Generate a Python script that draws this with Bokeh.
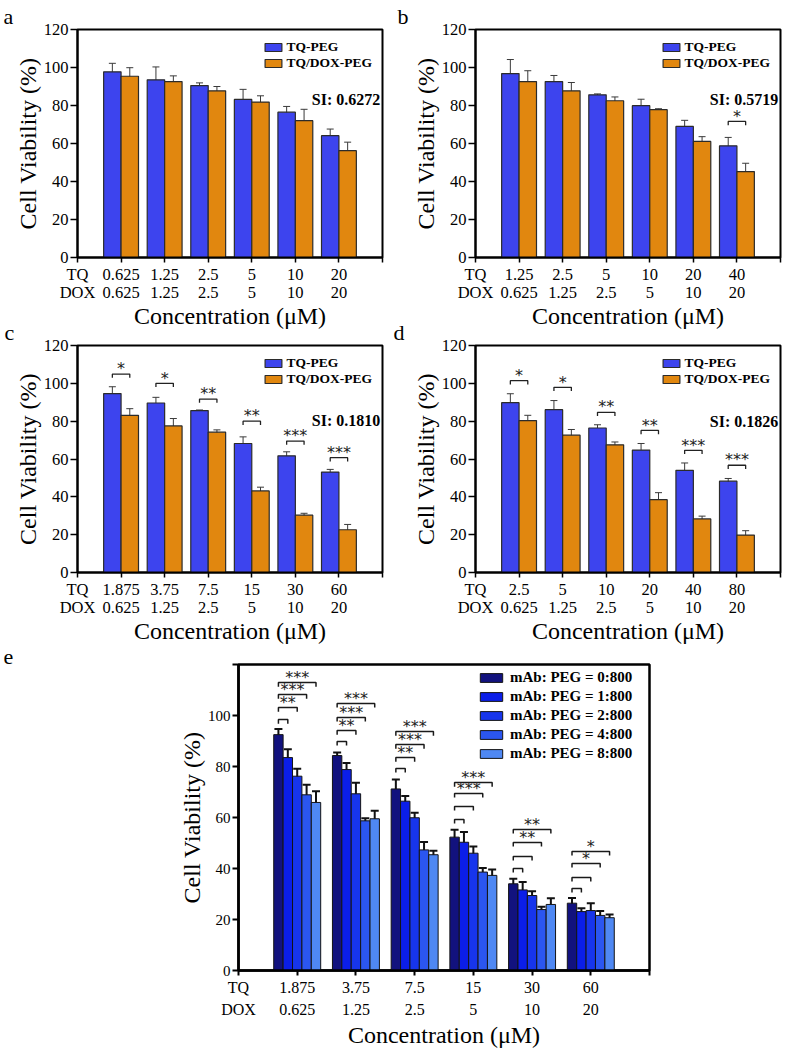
from bokeh.plotting import figure
from bokeh.models import (ColumnDataSource, FixedTicker, Range1d, Legend, LegendItem,
                          Whisker, TeeHead)
from bokeh.layouts import column, row
from bokeh.core.properties import value
from bokeh.embed import file_html
from bokeh.resources import INLINE

SERIF = "Liberation Serif"
STARFONT = "DejaVu Sans"
BLUE = "#3d44ee"
ORANGE = "#e1870f"
E_COLORS = ["#12127e", "#0b1ee8", "#1735ec", "#2b56f0", "#4f88f3"]

# ---------------- data ----------------
series_names = ["TQ-PEG", "TQ/DOX-PEG"]

a_tq = ["0.625", "1.25", "2.5", "5", "10", "20"]
a_dox = ["0.625", "1.25", "2.5", "5", "10", "20"]
a_peg = [97.7, 93.5, 90.5, 83.2, 76.5, 64.1]
a_peg_err = [4.5, 6.8, 1.4, 5.3, 3.0, 3.5]
a_tqdox = [95.4, 92.6, 87.7, 81.8, 72.0, 56.2]
a_tqdox_err = [4.5, 3.0, 2.3, 3.3, 6.0, 4.5]
a_stars = ["", "", "", "", "", ""]
a_bracket = [0, 0, 0, 0, 0, 0]
a_si = "SI: 0.6272"

b_tq = ["1.25", "2.5", "5", "10", "20", "40"]
b_dox = ["0.625", "1.25", "2.5", "5", "10", "20"]
b_peg = [96.8, 92.6, 85.6, 79.9, 69.0, 58.8]
b_peg_err = [7.4, 3.2, 0.5, 3.4, 3.2, 4.4]
b_tqdox = [92.6, 87.7, 82.5, 77.8, 61.1, 45.2]
b_tqdox_err = [5.7, 4.4, 2.0, 0.5, 2.5, 4.4]
b_stars = ["", "", "", "", "", "*"]
b_bracket = [0, 0, 0, 0, 0, 71.6]
b_si = "SI: 0.5719"

c_tq = ["1.875", "3.75", "7.5", "15", "30", "60"]
c_dox = ["0.625", "1.25", "2.5", "5", "10", "20"]
c_peg = [94.6, 89.6, 85.6, 68.2, 61.7, 53.1]
c_peg_err = [3.6, 3.0, 0.3, 3.5, 2.1, 1.4]
c_tqdox = [83.1, 77.5, 74.2, 43.1, 30.3, 22.6]
c_tqdox_err = [3.5, 3.9, 1.2, 2.0, 1.0, 2.8]
c_stars = ["*", "*", "**", "**", "***", "***"]
c_bracket = [104.9, 100.0, 91.7, 80.0, 69.5, 60.7]
c_si = "SI: 0.1810"

d_tq = ["2.5", "5", "10", "20", "40", "80"]
d_dox = ["0.625", "1.25", "2.5", "5", "10", "20"]
d_peg = [89.8, 86.1, 76.4, 64.7, 54.0, 48.3]
d_peg_err = [4.7, 4.8, 1.7, 3.5, 3.9, 1.4]
d_tqdox = [80.3, 72.6, 67.5, 38.5, 28.3, 19.8]
d_tqdox_err = [2.8, 3.0, 1.5, 3.7, 1.5, 2.3]
d_stars = ["*", "*", "**", "**", "***", "***"]
d_bracket = [101.4, 97.9, 84.7, 75.1, 64.6, 56.7]
d_si = "SI: 0.1826"

e_tq = ["1.875", "3.75", "7.5", "15", "30", "60"]
e_dox = ["0.625", "1.25", "2.5", "5", "10", "20"]
e_names = ["mAb: PEG = 0:800", "mAb: PEG = 1:800", "mAb: PEG = 2:800",
           "mAb: PEG = 4:800", "mAb: PEG = 8:800"]
e_r0 = [92.5, 84.3, 71.2, 52.3, 34.0, 26.4]
e_r0_err = [2.2, 1.2, 3.7, 2.9, 2.0, 2.0]
e_r1 = [83.5, 78.8, 66.4, 50.3, 31.6, 23.1]
e_r1_err = [3.3, 2.6, 2.0, 4.0, 3.1, 1.3]
e_r2 = [76.2, 69.3, 59.9, 46.0, 29.4, 23.5]
e_r2_err = [2.9, 4.3, 2.0, 2.6, 1.7, 2.9]
e_r4 = [68.9, 58.7, 47.3, 38.6, 23.9, 21.6]
e_r4_err = [3.9, 1.0, 3.1, 1.6, 1.1, 1.7]
e_r8 = [65.9, 59.5, 45.4, 37.3, 25.9, 20.7]
e_r8_err = [4.4, 3.1, 1.6, 2.3, 2.4, 1.3]
# brackets from the 0:800 bar to each other ratio
e_br_r1 = [98.4, 89.8, 79.2, 59.2, 40.0, 32.2]
e_br_r2 = [103.1, 94.1, 83.5, 64.3, 44.7, 36.5]
e_br_r4 = [108.2, 99.2, 88.6, 69.4, 50.2, 42.0]
e_br_r8 = [112.9, 104.7, 93.7, 73.7, 55.3, 46.7]
e_st_r1 = ["", "", "", "", "", ""]
e_st_r2 = ["**", "**", "**", "", "", ""]
e_st_r4 = ["***", "***", "***", "***", "**", "*"]
e_st_r8 = ["***", "***", "***", "***", "**", "*"]

y_ticks = [0, 20, 40, 60, 80, 100, 120]


def style_axes(p, tq, dox, tick_fs_x, tick_fs_y, line_h, tick_w, axis_w, y_over=None):
    p.xgrid.visible = False
    p.ygrid.visible = False
    p.outline_line_color = "black"
    p.outline_line_width = axis_w
    p.outline_line_alpha = 1
    p.background_fill_color = "white"
    p.border_fill_alpha = 0
    over = {0: "TQ\nDOX", len(tq) + 1: ""}
    for i in range(len(tq)):
        over[i + 1] = tq[i] + "\n" + dox[i]
    p.xaxis.ticker = FixedTicker(ticks=list(range(len(tq) + 2)))
    p.xaxis.major_label_overrides = over
    p.yaxis.ticker = FixedTicker(ticks=y_ticks)
    if y_over:
        p.yaxis.major_label_overrides = y_over
    p.xaxis.axis_label = "Concentration (μM)"
    p.yaxis.axis_label = "Cell Viability (%)"
    for ax in (p.xaxis[0], p.yaxis[0]):
        ax.axis_label_text_font = SERIF
        ax.axis_label_text_font_style = "normal"
        ax.axis_label_text_font_size = "24px"
        ax.axis_label_text_color = "black"
        ax.major_label_text_font = SERIF
        ax.major_label_text_color = "black"
        ax.axis_line_color = "black"
        ax.axis_line_width = axis_w
        ax.major_tick_line_color = "black"
        ax.major_tick_line_width = tick_w
        ax.major_tick_in = 0
        ax.minor_tick_line_color = None
    p.xaxis.major_label_text_font_size = tick_fs_x
    p.xaxis.major_label_text_line_height = line_h
    p.yaxis.major_label_text_font_size = tick_fs_y
    p.xaxis.major_tick_out = 5
    p.yaxis.major_tick_out = 7
    p.xaxis.major_label_standoff = 2
    p.yaxis.major_label_standoff = 2
    p.xaxis.axis_label_standoff = -2
    p.yaxis.axis_label_standoff = 0


def panel_title(p, letter, offset):
    p.title.text = letter
    p.title.text_font = SERIF
    p.title.text_font_size = "22px"
    p.title.text_font_style = "normal"
    p.title.text_color = "black"
    p.title.align = "left"
    p.title.offset = offset
    p.title.standoff = 2


def add_stars(p, xs_mid, ys_base, labels, size):
    p.text(xs_mid, ys_base, text=labels, text_font=value(STARFONT), text_font_size=size,
           text_align="center", text_baseline="alphabetic", text_color="#222222")


def pair_panel(letter, tq, dox, peg, peg_err, tqdox, tqdox_err, stars, bracket, si, si_y,
               width, height, bl, br, bt, bb, title_off):
    p = figure(width=width, height=height, x_range=Range1d(0, 7), y_range=Range1d(0, 120),
               output_backend="svg", toolbar_location=None, title=letter,
               min_border_left=bl, min_border_right=br, min_border_top=bt, min_border_bottom=bb)
    idx = list(range(1, len(peg) + 1))
    xb = [i - 0.2 for i in idx]
    xo = [i + 0.2 for i in idx]
    sb = ColumnDataSource(dict(x=xb, top=peg,
                               up=[v + e for v, e in zip(peg, peg_err)],
                               lo=[v - e for v, e in zip(peg, peg_err)]))
    so = ColumnDataSource(dict(x=xo, top=tqdox,
                               up=[v + e for v, e in zip(tqdox, tqdox_err)],
                               lo=[v - e for v, e in zip(tqdox, tqdox_err)]))
    rb = p.vbar(x="x", top="top", bottom=0, width=0.4, source=sb,
                fill_color=BLUE, line_color="#2b2b2b", line_width=1.2)
    ro = p.vbar(x="x", top="top", bottom=0, width=0.4, source=so,
                fill_color=ORANGE, line_color="#2b2b2b", line_width=1.2)
    for s in (sb, so):
        p.add_layout(Whisker(source=s, base="x", upper="up", lower="lo",
                             line_color="#3a3a3a", line_width=1,
                             upper_head=TeeHead(size=7, line_color="#3a3a3a", line_width=1),
                             lower_head=TeeHead(size=7, line_color="#3a3a3a", line_width=1)))
    xs, ys, tx, ty, tt = [], [], [], [], []
    for i, s in enumerate(stars):
        if not s:
            continue
        lvl = bracket[i]
        xs.append([xb[i], xb[i], xo[i], xo[i]])
        ys.append([lvl - 2, lvl, lvl, lvl - 2])
        tx.append((xb[i] + xo[i]) / 2)
        ty.append(lvl + 2.8)
        tt.append(s)
    if xs:
        p.multi_line(xs, ys, line_color="#222222", line_width=1.3)
        add_stars(p, tx, ty, tt, "16px")
    p.text([6.95], [si_y], text=[si], text_font=value(SERIF), text_font_size="16px",
           text_font_style="bold", text_align="right", text_baseline="middle",
           text_color="black")
    leg = Legend(items=[LegendItem(label=series_names[0], renderers=[rb]),
                        LegendItem(label=series_names[1], renderers=[ro])],
                 location="top_right",
                 background_fill_alpha=0, border_line_alpha=0,
                 label_text_font=SERIF, label_text_font_style="bold",
                 label_text_font_size="13.5px", label_text_color="black",
                 glyph_width=21, glyph_height=10, label_height=16, label_standoff=3,
                 spacing=0, padding=0, margin=10)
    p.add_layout(leg)
    style_axes(p, tq, dox, "16.5px", "16.5px", 0.98, 1.5, 2)
    panel_title(p, letter, title_off)
    return p


# geometry
LW, RW = 392, 395
BT, BB = 28, 80
H1 = BT + 229 + BB
H2 = BT + 228 + BB

pa = pair_panel("a", a_tq, a_dox, a_peg, a_peg_err, a_tqdox, a_tqdox_err, a_stars, a_bracket,
                a_si, 83, LW, H1, 77, 10, BT, BB, -74)
pb = pair_panel("b", b_tq, b_dox, b_peg, b_peg_err, b_tqdox, b_tqdox_err, b_stars, b_bracket,
                b_si, 83, RW, H1, 83, 7, BT, BB, -78)
pc = pair_panel("c", c_tq, c_dox, c_peg, c_peg_err, c_tqdox, c_tqdox_err, c_stars, c_bracket,
                c_si, 80.5, LW, H2, 77, 10, BT, BB, -73)
pd = pair_panel("d", d_tq, d_dox, d_peg, d_peg_err, d_tqdox, d_tqdox_err, d_stars, d_bracket,
                d_si, 79.8, RW, H2, 83, 7, BT, BB, -82)

# ---------------- panel e ----------------
EBL, EBR, EBT, EBB = 238, 138, 28, 80
EW, EH = EBL + 411 + EBR, EBT + 306 + EBB
pe = figure(width=EW, height=EH, x_range=Range1d(0, 7), y_range=Range1d(0, 120),
            output_backend="svg", toolbar_location=None, title="e",
            min_border_left=EBL, min_border_right=EBR, min_border_top=EBT, min_border_bottom=EBB)

e_vals = [e_r0, e_r1, e_r2, e_r4, e_r8]
e_errs = [e_r0_err, e_r1_err, e_r2_err, e_r4_err, e_r8_err]
BW = 0.16
renderers = []
xcols = []
for k in range(5):
    xk = [i + 1 + (k - 2) * BW for i in range(len(e_tq))]
    xcols.append(xk)
    src = ColumnDataSource(dict(x=xk, top=e_vals[k],
                                up=[v + e for v, e in zip(e_vals[k], e_errs[k])],
                                lo=[v - e for v, e in zip(e_vals[k], e_errs[k])]))
    r = pe.vbar(x="x", top="top", bottom=0, width=BW, source=src,
                fill_color=E_COLORS[k], line_color="#141414", line_width=1)
    renderers.append(r)
    pe.add_layout(Whisker(source=src, base="x", upper="up", lower="lo",
                          line_color="#111111", line_width=2,
                          upper_head=TeeHead(size=8, line_color="#111111", line_width=2),
                          lower_head=TeeHead(size=8, line_color="#111111", line_width=2)))

exs, eys, etx, ety, ett = [], [], [], [], []
for k, (lv, st) in enumerate(zip([e_br_r1, e_br_r2, e_br_r4, e_br_r8],
                                 [e_st_r1, e_st_r2, e_st_r4, e_st_r8])):
    for i in range(len(e_tq)):
        x1 = xcols[0][i]
        x2 = xcols[k + 1][i]
        exs.append([x1, x1, x2, x2])
        eys.append([lv[i] - 1.6, lv[i], lv[i], lv[i] - 1.6])
        if st[i]:
            etx.append((x1 + x2) / 2)
            ety.append(lv[i] + 2.0)
            ett.append(st[i])
pe.multi_line(exs, eys, line_color="#1a1a1a", line_width=1.5)
add_stars(pe, etx, ety, ett, "16px")

eleg = Legend(items=[LegendItem(label=e_names[k], renderers=[renderers[k]]) for k in range(5)],
              location="top_right",
              background_fill_alpha=0, border_line_alpha=0,
              label_text_font=SERIF, label_text_font_style="bold",
              label_text_font_size="15px", label_text_color="black",
              glyph_width=28, glyph_height=11, label_height=19, label_standoff=5,
              label_width=135, spacing=0, padding=0, margin=4)
pe.add_layout(eleg)
style_axes(pe, e_tq, e_dox, "16px", "15px", 1.3, 2, 2.5, y_over={120: ""})
pe.xaxis.major_label_standoff = 3
pe.xaxis.axis_label_standoff = 1
pe.yaxis.major_tick_out = 6
panel_title(pe, "e", -235)

row1 = row(pa, pb)
row2 = row(pc, pd, margin=(-21, 0, 0, 0))
pe.margin = (-16, 0, 0, 0)
layout = column(row1, row2, pe)
open("out.html", "w").write(file_html(layout, INLINE))
